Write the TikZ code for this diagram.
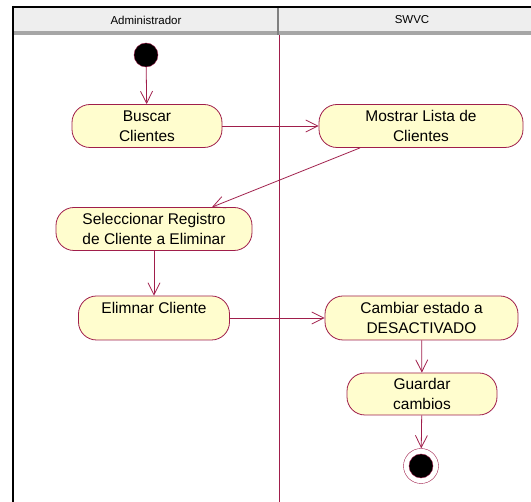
\documentclass[tikz,border=0pt]{standalone}
\usepackage{fontspec}
\setmainfont{Liberation Sans}
\usetikzlibrary{arrows.meta}
\definecolor{granate}{RGB}{160,30,75}
\definecolor{crema}{RGB}{255,253,206}
\definecolor{cabecera}{RGB}{238,238,238}
\tikzset{
  actividad/.style={draw=granate, fill=crema, rounded corners=18pt, align=center, inner sep=0pt, line width=0.8pt, font=\fontsize{15.5}{20}\selectfont},
  flujo/.style={draw=granate, line width=0.8pt, -{Straight Barb[length=12pt,width=12pt]}},
  titulo/.style={font=\fontsize{11.5}{13}\selectfont},
}
\begin{document}
\begin{tikzpicture}[x=1pt, y=-1pt]
    \useasboundingbox (0,0) rectangle (531,502);
    % calles
    \fill[cabecera] (13,7) rectangle (546,31);
    \fill[gray!70] (13,31) rectangle (546,35);
    \draw[gray, line width=2pt] (278,7) -- (278,35);
    \draw[line width=2pt] (12,7) -- (546,7);
    \draw[line width=2pt] (13,6) -- (13,502);
    \draw[granate, line width=0.8pt] (279,35) -- (279,502);
    \node[titulo] (admin) at (146,20) {Administrador};
    \node[titulo] (swvc) at (412,20) {SWVC};

    % actividades
    \node[circle, fill=black, draw=granate, minimum size=24pt, inner sep=0pt] (inicio) at (146,55) {};
    \node[actividad, minimum width=150pt, minimum height=43pt] (buscar) at (147,126) {Buscar\\Clientes};
    \node[actividad, minimum width=204pt, minimum height=43pt] (mostrar) at (421,126) {Mostrar Lista de\\Clientes};
    \node[actividad, minimum width=196pt, minimum height=43pt] (seleccionar) at (154,229) {Seleccionar Registro\\de Cliente a Eliminar};
    \node[actividad, minimum width=151pt, minimum height=44pt] (elimnar) at (154,318) {Elimnar Cliente\\\mbox{}};
    \node[actividad, minimum width=193pt, minimum height=44pt] (cambiar) at (421.5,318) {Cambiar estado a\\DESACTIVADO};
    \node[actividad, minimum width=150pt, minimum height=42pt] (guardar) at (422,394) {Guardar\\cambios};
    \node[circle, fill=white, draw=granate, minimum size=35pt, inner sep=0pt] (fin) at (421,466) {};
    \node[circle, fill=black, draw=granate, minimum size=24pt, inner sep=0pt] (finpunto) at (fin) {};

    % flujos
    \draw[flujo] (inicio) -- (buscar);
    \draw[flujo] (buscar) -- (mostrar);
    \draw[flujo] ([xshift=-61pt]mostrar.south) -- ([xshift=58pt]seleccionar.north);
    \draw[flujo] (seleccionar) -- (elimnar);
    \draw[flujo] (elimnar) -- (cambiar);
    \draw[flujo] (cambiar) -- (guardar);
    \draw[flujo] (guardar) -- (fin);
\end{tikzpicture}
\end{document}
